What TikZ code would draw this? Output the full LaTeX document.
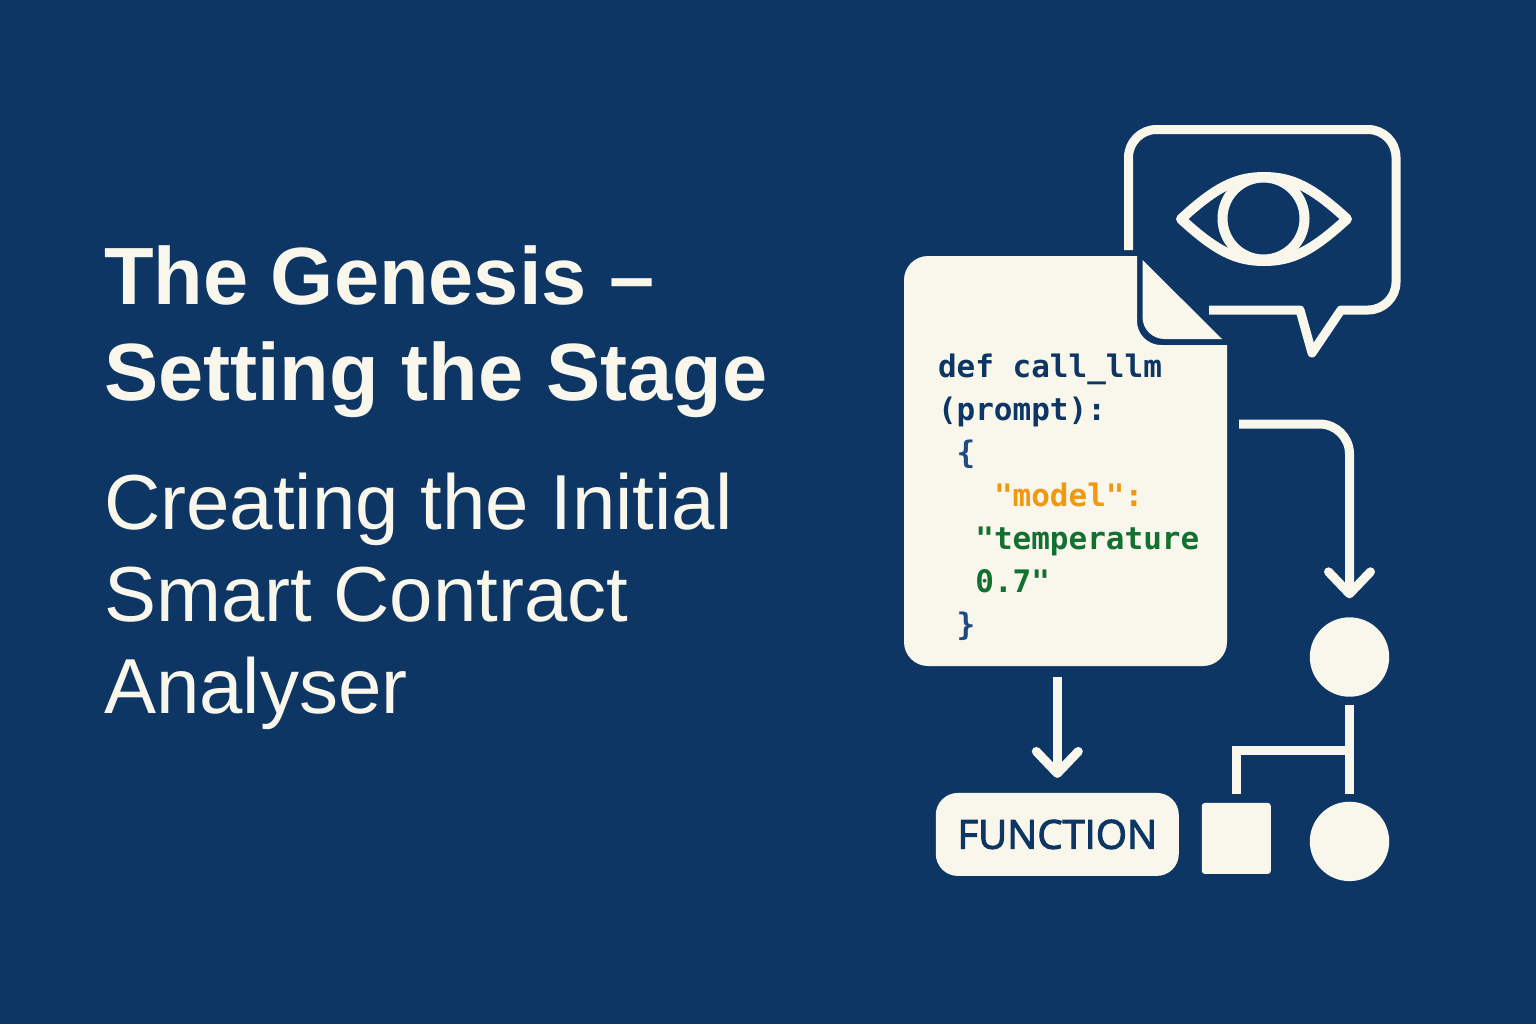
\documentclass[tikz,border=0pt]{standalone}
\usepackage{fontspec}
\setmainfont{Liberation Sans}
\setmonofont{DejaVu Sans Mono}
\newfontfamily\labfont[FakeBold=2.5]{Open Sans}
\usetikzlibrary{arrows.meta,positioning,calc}
\definecolor{navy}{HTML}{0D3664}
\definecolor{paper}{HTML}{F9F6EC}
\definecolor{bracecol}{HTML}{1D4A80}
\definecolor{modelcol}{HTML}{F0980F}
\definecolor{tempcol}{HTML}{137030}
\newcommand{\ind}[1]{\hphantom{#1}}

\begin{document}
\begin{tikzpicture}[x=0.5pt,y=-0.5pt,every node/.style={outer sep=0pt,inner sep=0pt},
  line/.style={draw=paper,line width=4.5pt},
  link/.style={line,-{Straight Barb[length=11pt,width=21pt,round]}},
  dot/.style={circle,fill=paper,minimum size=39.7pt},
  head/.style={text=paper,align=left,anchor=base west}]

  \fill[navy] (0,0) rectangle (1536,1024);
  \useasboundingbox (0,0) rectangle (1536,1024);

  % text on the left
  \node[head,font=\bfseries\fontsize{40.6}{48}\selectfont] (title) at (104,400) {The Genesis –\\Setting the Stage};
  \node[head,font=\fontsize{39}{45.8}\selectfont] (sub) at (104,713) {Creating the Initial\\Smart Contract\\Analyser};

  % document
  \node[minimum width=161.5pt,minimum height=205pt] (doc) at (1065.5,461) {};
  \fill[paper] [sharp corners] (1000,256) -- (1137,256) [rounded corners=12pt] -- (1137,345) [sharp corners] -- (1227,345)
    [rounded corners=12pt] -- (1227,666) -- (904,666) -- (904,256) -- cycle;
  \fill[paper,rounded corners=11pt] (1142.5,260) [sharp corners] -- (1222,339) [rounded corners=11pt] -- (1142.5,339) [sharp corners] -- cycle;
  \node[anchor=north west,align=left,text=navy,font=\ttfamily\bfseries\fontsize{15.5}{21.5}\selectfont] (code) at (938,354) {def call\_llm\\(prompt):\\
    \ind{x}\textcolor{bracecol}{\{}\\
    \ind{xxx}\textcolor{modelcol}{"model":}\\
    \ind{xx}\textcolor{tempcol}{"temperature}\\
    \ind{xx}\textcolor{tempcol}{0.7"}\\
    \ind{x}\textcolor{bracecol}{\}}};

  % bubble with the eye
  \draw[line,line join=round] (1128.5,250) [rounded corners=14pt] -- (1128.5,129.5) -- (1396,129.5) -- (1396,310) [sharp corners] -- (1341,310) -- (1312,353) -- (1300,310) -- (1209,310);
  \draw[line,line width=5pt,line join=round] (1181,219) .. controls (1215,188) and (1235,177) .. (1264,177) .. controls (1293,177) and (1313,188) .. (1347,219)
    .. controls (1313,250) and (1293,261) .. (1264,261) .. controls (1235,261) and (1215,250) .. (1181,219) -- cycle;
  \node[circle,draw=paper,line width=5pt,minimum size=41pt] (iris) at (1263.5,218.5) {};

  % shapes at the bottom
  \node[dot] (c1) at (1349.5,657) {};
  \node[dot,below=52.5pt of c1] (c2) {};
  \node[fill=paper,rounded corners=1.5pt,minimum width=34.5pt,minimum height=35.5pt,left=19.5pt of c2,yshift=1.5pt] (sq) {};
  \node[fill=paper,rounded corners=11pt,minimum width=121.5pt,minimum height=41.5pt,text=navy,font=\labfont\fontsize{20}{24}\selectfont,left=11.5pt of sq,yshift=2pt] (func) {FUNCTION};

  \coordinate (out) at (1239,424);
  \coordinate (fork) at (c1 |- 0,750.5);

  \draw[link,rounded corners=15pt,shorten >=9.5pt] (out) -| (c1.north);
  \draw[link,shorten <=5.5pt,shorten >=7.5pt] (doc.south -| func.north) -- (func.north);
  \draw[line,shorten <=4pt,shorten >=4pt] (c1.south) -- (c2.north);
  \draw[line,shorten >=4.5pt] (fork) -| (sq.north);

\end{tikzpicture}
\end{document}
